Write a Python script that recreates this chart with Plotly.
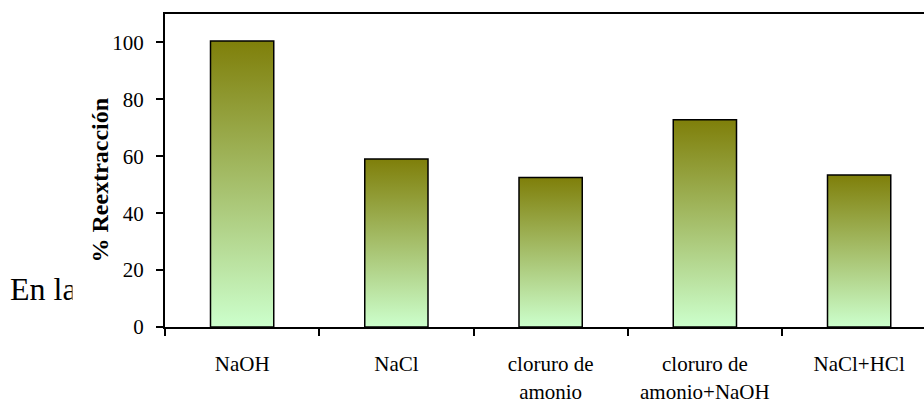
import plotly.graph_objects as go

# Data
categories = ["NaOH", "NaCl", "cloruro de<br>amonio", "cloruro de<br>amonio+NaOH", "NaCl+HCl"]
reextraccion = [100.5, 59, 52.5, 72.8, 53.4]
y_ticks = [0, 20, 40, 60, 80, 100]

FONT = "Liberation Serif"
BAR_HALF = 0.205
W, H = 924, 401
M_L, M_R, M_T, M_B = 165, 0, 14, 74

fig = go.Figure()

# each bar is a closed rectangle so it can carry its own vertical gradient
for i, (cat, v) in enumerate(zip(categories, reextraccion)):
    fig.add_trace(go.Scatter(
        x=[i - BAR_HALF, i - BAR_HALF, i + BAR_HALF, i + BAR_HALF, i - BAR_HALF],
        y=[0, v, v, 0, 0],
        mode="lines",
        fill="toself",
        fillgradient=dict(type="vertical",
                          colorscale=[[0, "#CCFFCC"], [1, "#7F7F0A"]]),
        line=dict(color="black", width=1.5),
        name=cat.replace("<br>", " "),
        hoverinfo="name+y",
        showlegend=False,
    ))

plot_w = W - M_L - M_R
x_unit = 154.25
x_max = -0.5 + plot_w / x_unit

fig.update_xaxes(
    range=[-0.5, x_max],
    tickmode="array",
    tickvals=list(range(len(categories))),
    ticktext=categories,
    ticks="",
    showline=True, linecolor="black", linewidth=2, mirror=True,
    showgrid=False, zeroline=False,
    tickfont=dict(family=FONT, size=21, color="black"),
    ticklabelstandoff=17,
    automargin=False,
    minor=dict(tickmode="array",
               tickvals=[k - 0.5 for k in range(len(categories))],
               ticks="outside", ticklen=7, tickwidth=1.5, tickcolor="black",
               showgrid=False),
)

fig.update_yaxes(
    range=[0, 110],
    tickmode="array",
    tickvals=y_ticks,
    ticks="outside", ticklen=7, tickwidth=1.5, tickcolor="black",
    showline=True, linecolor="black", linewidth=2,
    showgrid=False, zeroline=False,
    tickfont=dict(family=FONT, size=21, color="black"),
    ticklabelstandoff=8,
    automargin=False,
)

def px_x(px):
    return (px - M_L) / plot_w

def px_y(py):
    return (H - M_B - py) / (H - M_T - M_B)

annotations = [
    # axis title
    dict(text="<b>% Reextracción</b>", textangle=-90,
         xref="paper", yref="paper", x=px_x(99.5), y=px_y(180),
         xanchor="center", yanchor="middle", showarrow=False,
         font=dict(family=FONT, size=24, color="black")),
    # surrounding document text partly hidden behind the chart
    dict(text="En la", xref="paper", yref="paper",
         x=px_x(8), y=px_y(289), xanchor="left", yanchor="middle",
         showarrow=False, font=dict(family=FONT, size=32, color="black")),
    dict(text=" ", xref="paper", yref="paper",
         x=px_x(72), y=px_y(289), xanchor="left", yanchor="middle",
         width=30, height=44, bgcolor="white", showarrow=False,
         font=dict(family=FONT, size=10)),
]

fig.update_layout(
    width=W, height=H,
    margin=dict(l=M_L, r=M_R, t=M_T, b=M_B, autoexpand=False),
    paper_bgcolor="white", plot_bgcolor="white",
    annotations=annotations,
    showlegend=False,
)

fig.write_html("out.html")
